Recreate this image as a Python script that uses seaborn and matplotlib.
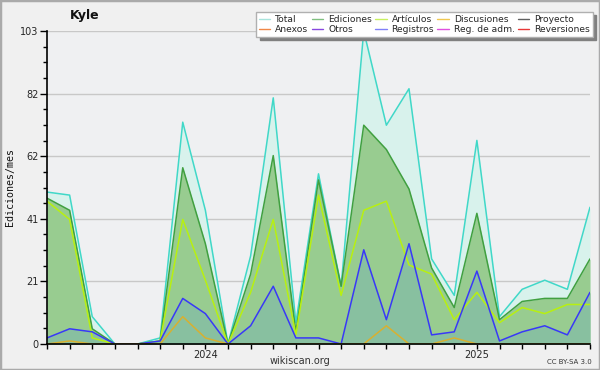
import numpy as np
import pandas as pd
import matplotlib
matplotlib.use("Agg")
import matplotlib.pyplot as plt
import seaborn as sns
from matplotlib.lines import Line2D
from matplotlib.patches import Rectangle

# Monthly edits, June 2023 - June 2025
months = pd.date_range("2023-06-01", periods=25, freq="MS")
total = [50, 49, 9, 0, 0, 2, 73, 44, 0, 29, 81, 7, 56, 19, 103, 72, 84, 28, 16, 67, 9, 18, 21, 18, 45]
ediciones = [48, 44, 5, 0, 0, 1, 58, 33, 0, 23, 62, 4, 54, 19, 72, 64, 51, 25, 12, 43, 8, 14, 15, 15, 28]
articulos = [47, 41, 2, 0, 0, 1, 41, 21, 0, 17, 41, 3, 49, 16, 44, 47, 26, 23, 8, 17, 7, 12, 10, 13, 13]
registros = [2, 5, 4, 0, 0, 1, 15, 10, 0, 6, 19, 2, 2, 0, 31, 8, 33, 3, 4, 24, 1, 4, 6, 3, 17]
discusiones = [0, 1, 0, 0, 0, 0, 9, 2, 0, 0, 0, 0, 0, 0, 0, 6, 0, 0, 2, 0, 0, 0, 0, 0, 0]

df = pd.DataFrame({
    "pos": np.arange(len(months)),
    "Total": total,
    "Ediciones": ediciones,
    "Artículos": articulos,
    "Registros": registros,
    "Discusiones": discusiones,
})

sns.set_theme(style="white")
plt.rcParams["font.family"] = ["DejaVu Sans"]

fig = plt.figure(figsize=(6, 3.7), dpi=100, facecolor="#f0f0f0")
ax = fig.add_axes([47 / 600, 1 - 344 / 370, (590 - 47) / 600, (344 - 31) / 370])
ax.set_facecolor("#eff0f2")

# fills
ax.fill_between(df["pos"], 0, df["Total"], color="#d8f2ec", lw=0, zorder=1)
ax.fill_between(df["pos"], 0, df["Ediciones"], color="#98cc90", lw=0, zorder=2)
ax.fill_between(df["pos"], 0, df["Registros"], color="#88c0a0", lw=0, zorder=3)

# lines
styles = [("Total", "#40d8c8"), ("Ediciones", "#40a040"), ("Artículos", "#b8f010"),
          ("Registros", "#3838f8"), ("Discusiones", "#d8b030")]
for name, col in styles:
    sns.lineplot(data=df, x="pos", y=name, color=col, lw=1.1, ax=ax, zorder=4)

ymax = 103
ax.set_xlim(0, len(months) - 1)
ax.set_ylim(0, ymax)
ax.set_xlabel("")
ax.set_ylabel("")

major = [ymax * k / 20 for k in range(0, 21, 4)]
minor = [ymax * k / 20 for k in range(21)]
ax.set_yticks(major)
ax.set_yticklabels([str(int(round(v))) for v in major])
ax.set_yticks(minor, minor=True)
ax.yaxis.grid(True, which="major", color="#c8c8c8", lw=1)
ax.set_axisbelow(True)

ax.set_xticks(df["pos"])
ax.set_xticklabels([str(m.year) if m.month == 1 else "" for m in months])

ax.tick_params(axis="y", which="major", direction="out", length=5, width=1, color="black",
               labelsize=7, pad=1, left=True)
ax.tick_params(axis="y", which="minor", direction="out", length=3, width=1, color="black", left=True)
ax.tick_params(axis="x", direction="out", length=3.5, width=1, color="black",
               labelsize=7, pad=1, bottom=True)

for s in ["top", "right"]:
    ax.spines[s].set_visible(False)
for s in ["left", "bottom"]:
    ax.spines[s].set_color("black")
    ax.spines[s].set_linewidth(1.2)
    ax.spines[s].set_zorder(6)

# legend
leg_items = [("Total", "#a8e4dc"), ("Anexos", "#f08848"), ("Ediciones", "#80c080"),
             ("Otros", "#8848e0"), ("Artículos", "#c8f060"), ("Registros", "#8080f8"),
             ("Discusiones", "#f0c850"), ("Reg. de adm.", "#e050e0"),
             ("Proyecto", "#606060"), ("Reversiones", "#e83838")]
handles = [Line2D([], [], color=c, lw=1) for _, c in leg_items]
fig.legend(handles, [n for n, _ in leg_items], ncol=5, loc="upper right",
           bbox_to_anchor=(593 / 600, 1 - 12 / 370), fontsize=6.6, frameon=True,
           fancybox=False, edgecolor="#b0b0b0", facecolor="white", framealpha=1,
           handlelength=1.25, handletextpad=0.55, columnspacing=0.35, labelspacing=0.15,
           borderpad=0.3, borderaxespad=0,
           shadow={"ox": 2.5, "oy": -2.5, "color": "#808080", "alpha": 1})

fig.text(85 / 600, 1 - 15 / 370, "Kyle", ha="center", va="center", fontsize=9,
         fontweight="bold", color="#111111")
fig.text(10 / 600, 1 - 187 / 370, "Ediciones/mes", rotation=90, ha="center", va="center",
         family="DejaVu Sans Mono", fontsize=7.2, color="#111111")
fig.text(300 / 600, 1 - 361 / 370, "wikiscan.org", ha="center", va="center",
         fontsize=7, color="#333333")
fig.text(569 / 600, 1 - 362 / 370, "CC BY-SA 3.0", ha="center", va="center",
         fontsize=5, color="#333333")

fig.patches.append(Rectangle((0, 0), 1, 1, transform=fig.transFigure, fill=False,
                             edgecolor="#aaaaaa", lw=2.5, zorder=10))

fig.savefig("out.png", dpi=100, facecolor=fig.get_facecolor())
